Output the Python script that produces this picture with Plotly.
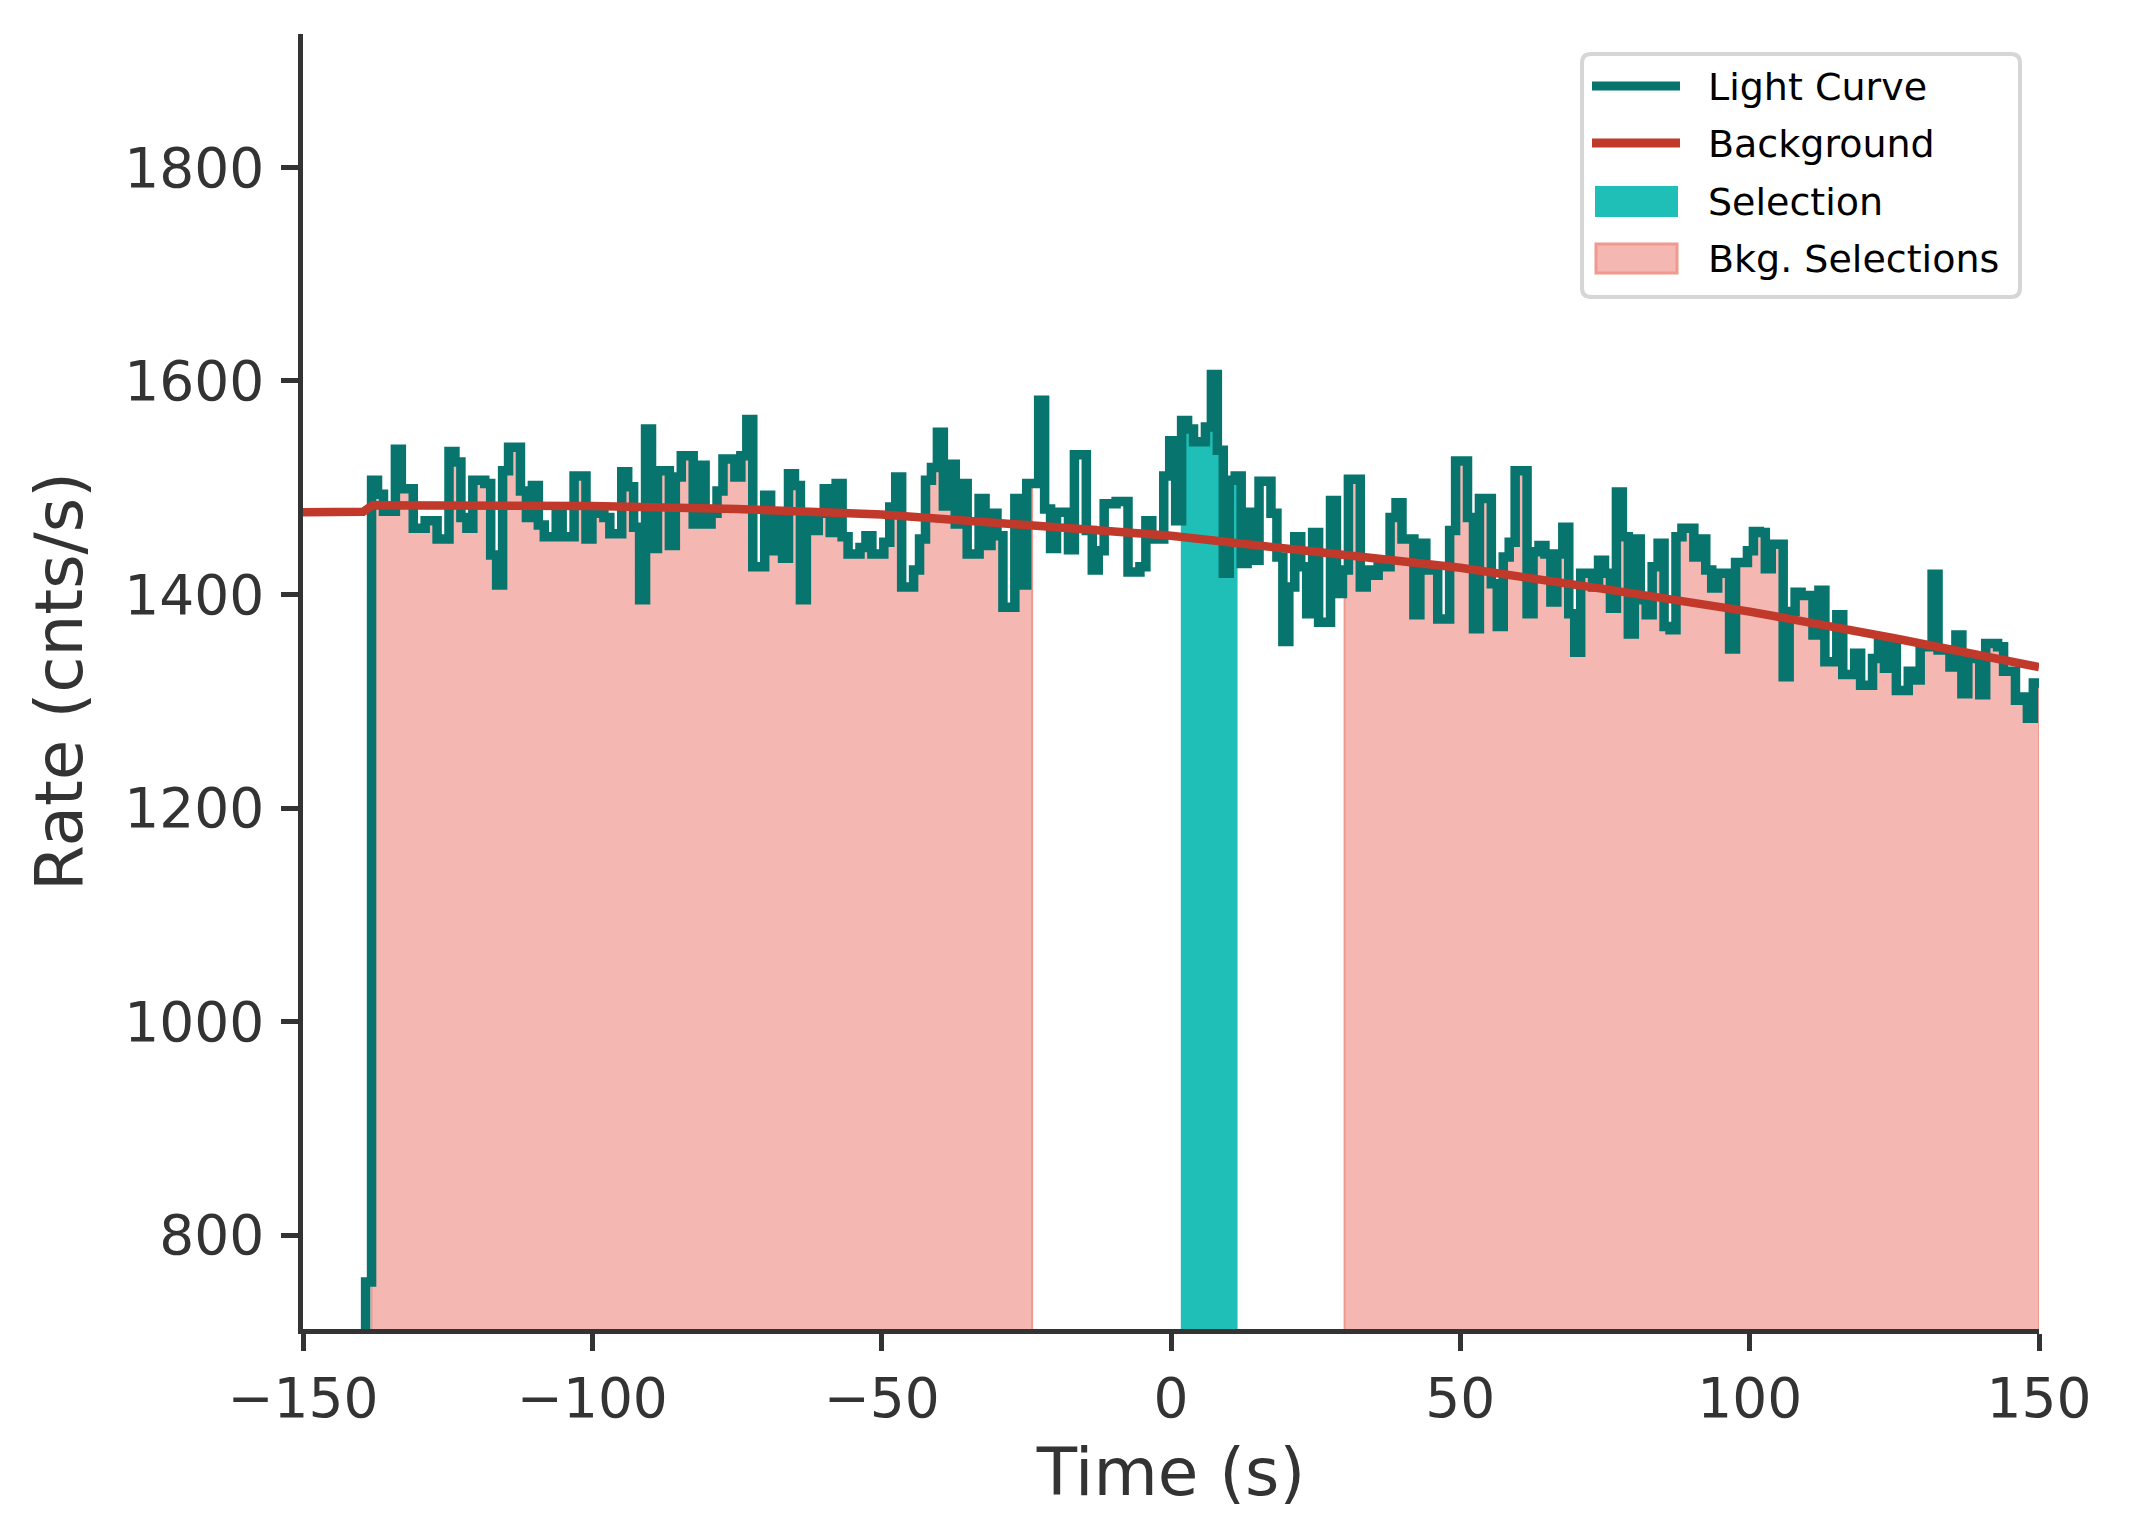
import plotly.graph_objects as go

# ---------------- data ----------------
bin_width = 1.0293          # s
first_edge = -139.18        # left edge of the first (partial) bin
pre_rates = [0, 756]        # bins before the main light curve
rates = [
    # -138 .. -99 s
    1507, 1494, 1478, 1478, 1536, 1499, 1499, 1462, 1462, 1469, 1469, 1452, 1452, 1534, 1524, 1472,
    1462, 1507, 1507, 1504, 1437, 1409, 1516, 1538, 1538, 1497, 1472, 1502, 1465, 1454, 1454, 1479,
    1454, 1454, 1511, 1511, 1452, 1479,
    # -99 .. -49 s
    1476, 1472, 1457, 1457, 1515, 1501, 1463, 1395, 1555, 1443, 1516, 1516, 1446, 1510, 1530, 1530,
    1466, 1521, 1466, 1476, 1497, 1527, 1527, 1510, 1530, 1564, 1426, 1426, 1493, 1441, 1472, 1434,
    1513, 1502, 1395, 1476, 1460, 1476, 1499, 1458, 1504, 1454, 1438, 1438, 1444, 1455, 1438, 1438,
    1449,
    # -49 .. 1 s
    1482, 1510, 1407, 1407, 1423, 1452, 1507, 1519, 1552, 1483, 1522, 1466, 1504, 1438, 1438, 1490,
    1446, 1476, 1455, 1388, 1388, 1490, 1409, 1504, 1504, 1582, 1480, 1443, 1477, 1477, 1442, 1531,
    1531, 1460, 1423, 1441, 1485, 1485, 1487, 1487, 1421, 1421, 1426, 1469, 1452, 1452, 1511, 1544,
    # 1 .. 51 s
    1469, 1563, 1555, 1543, 1543, 1557, 1606, 1535, 1420, 1507, 1511, 1429, 1477, 1432, 1506, 1506,
    1476, 1435, 1356, 1407, 1454, 1426, 1382, 1458, 1374, 1374, 1488, 1401, 1423, 1508, 1508, 1407,
    1423, 1418, 1426, 1426, 1472, 1486, 1452, 1452, 1381, 1448, 1423, 1423, 1377, 1377, 1460, 1525,
    1525,
    # 51 .. 101 s
    1472, 1368, 1490, 1490, 1410, 1370, 1435, 1449, 1516, 1516, 1382, 1440, 1446, 1438, 1393, 1438,
    1463, 1382, 1346, 1420, 1420, 1407, 1432, 1420, 1387, 1496, 1454, 1363, 1452, 1395, 1381, 1426,
    1448, 1370, 1367, 1454, 1462, 1462, 1435, 1452, 1423, 1406, 1420, 1420, 1349, 1430, 1430, 1441,
    1459,
    # 101 .. 150 s
    1458, 1424, 1447, 1447, 1323, 1384, 1402, 1399, 1399, 1362, 1404, 1337, 1337, 1381, 1325, 1325,
    1345, 1315, 1315, 1340, 1354, 1331, 1352, 1310, 1310, 1328, 1320, 1351, 1351, 1419, 1348, 1348,
    1332, 1362, 1307, 1340, 1340, 1306, 1354, 1354, 1351, 1328, 1328, 1301, 1304, 1284, 1317,
]

bkg_times = [-150, -139.6, -138.0, -125, -100, -75, -50, -25, 0, 25, 50, 75, 100, 125, 150]
bkg_rates = [1477, 1477.5, 1483.5, 1483.5, 1483, 1480, 1475, 1465, 1455, 1440, 1425, 1405, 1384, 1359, 1332]

selection = (1.7, 11.5)
bkg_selections = [(-138.15, -24.0), (30.0, 150.0)]

x_ticks = [-150, -100, -50, 0, 50, 100, 150]
y_ticks = [800, 1000, 1200, 1400, 1600, 1800]

legend_labels = ["Light Curve", "Background", "Selection", "Bkg. Selections"]

# ---------------- derived step geometry ----------------
all_rates = pre_rates + rates
edges = [round(first_edge - bin_width + i * bin_width, 4) for i in range(len(all_rates) + 1)]
lc_x = edges
lc_y = all_rates + [all_rates[-1]]


def step_polygon(a, b, base=0):
    xs, ys = [a], [base]
    for i, r in enumerate(all_rates):
        lo, hi = edges[i], edges[i + 1]
        if hi <= a or lo >= b:
            continue
        xs += [max(lo, a), min(hi, b)]
        ys += [r, r]
    xs += [b, a]
    ys += [base, base]
    return xs, ys


C_LC = "#07746e"
C_BKG = "#c0392b"
C_SEL = "#1fbfb8"
C_BSEL = "#f5b7b1"
C_BSEL_EDGE = "#ef998f"
TXT = "#333333"
FONT = "DejaVu Sans"

W, H = 2129, 1540
ML, MR, MT, MB = 303, 90, 34, 211
PW, PH = W - ML - MR, H - MT - MB


def px(xp):   # pixel -> paper x
    return (xp - ML) / PW


def py(yp):   # pixel -> paper y
    return (H - MB - yp) / PH


def rounded_box(x0, y0, x1, y1, r):
    a, b, c, d = px(x0), px(x1), py(y0), py(y1)   # c = top, d = bottom (paper)
    rx, ry = r / PW, r / PH
    return (f"M {a + rx},{c} L {b - rx},{c} Q {b},{c} {b},{c - ry} "
            f"L {b},{d + ry} Q {b},{d} {b - rx},{d} L {a + rx},{d} "
            f"Q {a},{d} {a},{d + ry} L {a},{c - ry} Q {a},{c} {a + rx},{c} Z")


fig = go.Figure()

for j, (a, b) in enumerate(bkg_selections):
    xs, ys = step_polygon(a, b)
    fig.add_trace(go.Scatter(
        x=xs, y=ys, mode="lines", fill="toself", fillcolor=C_BSEL,
        line=dict(color=C_BSEL_EDGE, width=2), name="Bkg. Selections",
        showlegend=False, hoverinfo="skip"))

xs, ys = step_polygon(*selection)
fig.add_trace(go.Scatter(
    x=xs, y=ys, mode="lines", fill="toself", fillcolor=C_SEL,
    line=dict(color=C_SEL, width=0), name="Selection",
    showlegend=False, hoverinfo="skip"))

fig.add_trace(go.Scatter(
    x=lc_x, y=lc_y, mode="lines", line=dict(color=C_LC, width=9.5, shape="hv"),
    name="Light Curve", showlegend=False))

fig.add_trace(go.Scatter(
    x=bkg_times, y=bkg_rates, mode="lines", line=dict(color=C_BKG, width=8.5),
    name="Background", showlegend=False))

# ---------------- legend (drawn as layout shapes) ----------------
shapes = [
    dict(type="path", xref="paper", yref="paper", path=rounded_box(1582, 54, 2020, 297, 9),
         line=dict(color="#d6d6d6", width=4), fillcolor="white", layer="above"),
    dict(type="line", xref="paper", yref="paper",
         x0=px(1592), x1=px(1680), y0=py(86), y1=py(86),
         line=dict(color=C_LC, width=9), layer="above"),
    dict(type="line", xref="paper", yref="paper",
         x0=px(1592), x1=px(1680), y0=py(143), y1=py(143),
         line=dict(color=C_BKG, width=9), layer="above"),
    dict(type="rect", xref="paper", yref="paper",
         x0=px(1595), x1=px(1678), y0=py(217), y1=py(186),
         line=dict(width=0), fillcolor=C_SEL, layer="above"),
    dict(type="rect", xref="paper", yref="paper",
         x0=px(1596), x1=px(1677), y0=py(273), y1=py(244),
         line=dict(color=C_BSEL_EDGE, width=3), fillcolor=C_BSEL, layer="above"),
]
rows_y = [87, 144, 202, 259]
annotations = [
    dict(text=lab, xref="paper", yref="paper", x=px(1706), y=py(ry),
         xanchor="left", yanchor="middle", showarrow=False,
         font=dict(family=FONT, size=38, color="black"))
    for lab, ry in zip(legend_labels, rows_y)
]

axis_common = dict(
    showline=True, linecolor=TXT, linewidth=4.5, mirror=False,
    ticks="outside", ticklen=17, tickwidth=4.5, tickcolor=TXT,
    showgrid=False, zeroline=False,
    tickfont=dict(family=FONT, size=55, color=TXT),
)

fig.update_layout(
    width=W, height=H,
    margin=dict(l=ML, r=MR, t=MT, b=MB, autoexpand=False),
    paper_bgcolor="white", plot_bgcolor="white",
    font=dict(family=FONT, color=TXT),
    xaxis=dict(range=[-150, 150], tickvals=x_ticks,
               title=dict(text="Time (s)", font=dict(family=FONT, size=66, color=TXT), standoff=22),
               **axis_common),
    yaxis=dict(range=[712, 1925], tickvals=y_ticks, ticklabelstandoff=6,
               title=dict(text="Rate (cnts/s)", font=dict(family=FONT, size=66, color=TXT), standoff=22),
               **axis_common),
    shapes=shapes,
    annotations=annotations,
    showlegend=False,
)

fig.write_html("out.html", config={"displayModeBar": False},
               post_script="document.body.style.margin='0';")
